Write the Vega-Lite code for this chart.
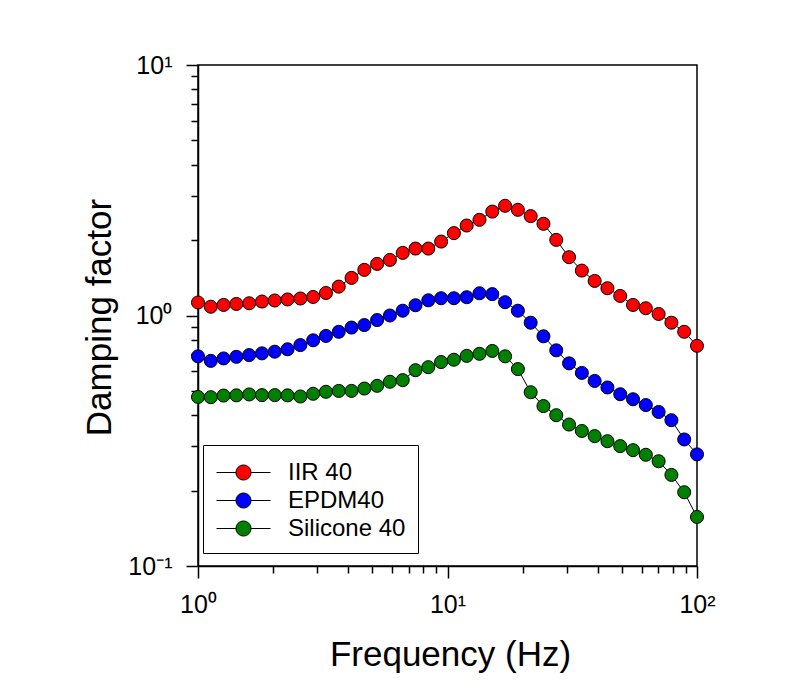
{
  "$schema": "https://vega.github.io/schema/vega-lite/v6.json",
  "width": 499,
  "height": 501,
  "autosize": {"type": "none"},
  "padding": {"left": 198, "top": 65, "right": 92, "bottom": 132},
  "background": "white",
  "config": {
    "view": {"stroke": "black", "strokeWidth": 1.5},
    "font": "Liberation Sans"
  },
  "data": {
    "values": [
      {"f": 1, "s": "IIR 40", "d": 1.127}, {"f": 1.1255, "s": "IIR 40", "d": 1.084}, {"f": 1.2664, "s": "IIR 40", "d": 1.102}, {"f": 1.4251, "s": "IIR 40", "d": 1.112}, {"f": 1.6037, "s": "IIR 40", "d": 1.119},
      {"f": 1.8047, "s": "IIR 40", "d": 1.137}, {"f": 2.0309, "s": "IIR 40", "d": 1.148}, {"f": 2.2855, "s": "IIR 40", "d": 1.159}, {"f": 2.5719, "s": "IIR 40", "d": 1.169}, {"f": 2.8943, "s": "IIR 40", "d": 1.186},
      {"f": 3.257, "s": "IIR 40", "d": 1.23}, {"f": 3.6652, "s": "IIR 40", "d": 1.304}, {"f": 4.1246, "s": "IIR 40", "d": 1.413}, {"f": 4.6416, "s": "IIR 40", "d": 1.521}, {"f": 5.2233, "s": "IIR 40", "d": 1.607},
      {"f": 5.878, "s": "IIR 40", "d": 1.667}, {"f": 6.6147, "s": "IIR 40", "d": 1.778}, {"f": 7.4438, "s": "IIR 40", "d": 1.85}, {"f": 8.3768, "s": "IIR 40", "d": 1.85}, {"f": 9.4267, "s": "IIR 40", "d": 1.973},
      {"f": 10.608, "s": "IIR 40", "d": 2.132}, {"f": 11.938, "s": "IIR 40", "d": 2.287}, {"f": 13.434, "s": "IIR 40", "d": 2.41}, {"f": 15.118, "s": "IIR 40", "d": 2.599}, {"f": 17.013, "s": "IIR 40", "d": 2.742},
      {"f": 19.145, "s": "IIR 40", "d": 2.642}, {"f": 21.544, "s": "IIR 40", "d": 2.493}, {"f": 24.245, "s": "IIR 40", "d": 2.323}, {"f": 27.283, "s": "IIR 40", "d": 2.004}, {"f": 30.703, "s": "IIR 40", "d": 1.709},
      {"f": 34.551, "s": "IIR 40", "d": 1.511}, {"f": 38.882, "s": "IIR 40", "d": 1.374}, {"f": 43.755, "s": "IIR 40", "d": 1.285}, {"f": 49.239, "s": "IIR 40", "d": 1.197}, {"f": 55.41, "s": "IIR 40", "d": 1.102},
      {"f": 62.355, "s": "IIR 40", "d": 1.069}, {"f": 70.17, "s": "IIR 40", "d": 1.014}, {"f": 78.965, "s": "IIR 40", "d": 0.936}, {"f": 88.862, "s": "IIR 40", "d": 0.861}, {"f": 100, "s": "IIR 40", "d": 0.757},

      {"f": 1, "s": "EPDM40", "d": 0.687}, {"f": 1.1255, "s": "EPDM40", "d": 0.659}, {"f": 1.2664, "s": "EPDM40", "d": 0.674}, {"f": 1.4251, "s": "EPDM40", "d": 0.684}, {"f": 1.6037, "s": "EPDM40", "d": 0.695},
      {"f": 1.8047, "s": "EPDM40", "d": 0.706}, {"f": 2.0309, "s": "EPDM40", "d": 0.717}, {"f": 2.2855, "s": "EPDM40", "d": 0.733}, {"f": 2.5719, "s": "EPDM40", "d": 0.762}, {"f": 2.8943, "s": "EPDM40", "d": 0.796},
      {"f": 3.257, "s": "EPDM40", "d": 0.829}, {"f": 3.6652, "s": "EPDM40", "d": 0.861}, {"f": 4.1246, "s": "EPDM40", "d": 0.895}, {"f": 4.6416, "s": "EPDM40", "d": 0.916}, {"f": 5.2233, "s": "EPDM40", "d": 0.959},
      {"f": 5.878, "s": "EPDM40", "d": 1.0}, {"f": 6.6147, "s": "EPDM40", "d": 1.045}, {"f": 7.4438, "s": "EPDM40", "d": 1.099}, {"f": 8.3768, "s": "EPDM40", "d": 1.15}, {"f": 9.4267, "s": "EPDM40", "d": 1.172},
      {"f": 10.608, "s": "EPDM40", "d": 1.172}, {"f": 11.938, "s": "EPDM40", "d": 1.183}, {"f": 13.434, "s": "EPDM40", "d": 1.227}, {"f": 15.118, "s": "EPDM40", "d": 1.217}, {"f": 17.013, "s": "EPDM40", "d": 1.13},
      {"f": 19.145, "s": "EPDM40", "d": 1.045}, {"f": 21.544, "s": "EPDM40", "d": 0.936}, {"f": 24.245, "s": "EPDM40", "d": 0.826}, {"f": 27.283, "s": "EPDM40", "d": 0.726}, {"f": 30.703, "s": "EPDM40", "d": 0.644},
      {"f": 34.551, "s": "EPDM40", "d": 0.59}, {"f": 38.882, "s": "EPDM40", "d": 0.548}, {"f": 43.755, "s": "EPDM40", "d": 0.516}, {"f": 49.239, "s": "EPDM40", "d": 0.485}, {"f": 55.41, "s": "EPDM40", "d": 0.463},
      {"f": 62.355, "s": "EPDM40", "d": 0.439}, {"f": 70.17, "s": "EPDM40", "d": 0.412}, {"f": 78.965, "s": "EPDM40", "d": 0.382}, {"f": 88.862, "s": "EPDM40", "d": 0.32}, {"f": 100, "s": "EPDM40", "d": 0.279},

      {"f": 1, "s": "Silicone 40", "d": 0.473}, {"f": 1.1255, "s": "Silicone 40", "d": 0.472}, {"f": 1.2664, "s": "Silicone 40", "d": 0.479}, {"f": 1.4251, "s": "Silicone 40", "d": 0.48}, {"f": 1.6037, "s": "Silicone 40", "d": 0.484},
      {"f": 1.8047, "s": "Silicone 40", "d": 0.481}, {"f": 2.0309, "s": "Silicone 40", "d": 0.481}, {"f": 2.2855, "s": "Silicone 40", "d": 0.48}, {"f": 2.5719, "s": "Silicone 40", "d": 0.475}, {"f": 2.8943, "s": "Silicone 40", "d": 0.487},
      {"f": 3.257, "s": "Silicone 40", "d": 0.496}, {"f": 3.6652, "s": "Silicone 40", "d": 0.5}, {"f": 4.1246, "s": "Silicone 40", "d": 0.5}, {"f": 4.6416, "s": "Silicone 40", "d": 0.511}, {"f": 5.2233, "s": "Silicone 40", "d": 0.524},
      {"f": 5.878, "s": "Silicone 40", "d": 0.544}, {"f": 6.6147, "s": "Silicone 40", "d": 0.552}, {"f": 7.4438, "s": "Silicone 40", "d": 0.605}, {"f": 8.3768, "s": "Silicone 40", "d": 0.622}, {"f": 9.4267, "s": "Silicone 40", "d": 0.652},
      {"f": 10.608, "s": "Silicone 40", "d": 0.666}, {"f": 11.938, "s": "Silicone 40", "d": 0.69}, {"f": 13.434, "s": "Silicone 40", "d": 0.703}, {"f": 15.118, "s": "Silicone 40", "d": 0.722}, {"f": 17.013, "s": "Silicone 40", "d": 0.687},
      {"f": 19.145, "s": "Silicone 40", "d": 0.611}, {"f": 21.544, "s": "Silicone 40", "d": 0.494}, {"f": 24.245, "s": "Silicone 40", "d": 0.435}, {"f": 27.283, "s": "Silicone 40", "d": 0.4}, {"f": 30.703, "s": "Silicone 40", "d": 0.367},
      {"f": 34.551, "s": "Silicone 40", "d": 0.346}, {"f": 38.882, "s": "Silicone 40", "d": 0.33}, {"f": 43.755, "s": "Silicone 40", "d": 0.315}, {"f": 49.239, "s": "Silicone 40", "d": 0.301}, {"f": 55.41, "s": "Silicone 40", "d": 0.29},
      {"f": 62.355, "s": "Silicone 40", "d": 0.278}, {"f": 70.17, "s": "Silicone 40", "d": 0.262}, {"f": 78.965, "s": "Silicone 40", "d": 0.231}, {"f": 88.862, "s": "Silicone 40", "d": 0.197}, {"f": 100, "s": "Silicone 40", "d": 0.157}
    ]
  },
  "encoding": {
    "x": {
      "field": "f",
      "type": "quantitative",
      "scale": {"type": "log", "domain": [1, 100], "nice": false},
      "axis": {
        "title": "Frequency (Hz)",
        "values": [1, 2, 3, 4, 5, 6, 7, 8, 9, 10, 20, 30, 40, 50, 60, 70, 80, 90, 100],
        "labelExpr": "datum.value == 1 ? '10⁰' : datum.value == 10 ? '10¹' : datum.value == 100 ? '10²' : ''",
        "labelOverlap": false,
        "labelFlush": false,
        "labelBound": false,
        "labelFont": "Liberation Sans",
        "labelFontSize": 25,
        "labelColor": "black",
        "labelPadding": 14,
        "tickSize": {"condition": {"test": "datum.value == 1 || datum.value == 10 || datum.value == 100", "value": 12}, "value": 7},
        "tickColor": "black",
        "tickWidth": 1.5,
        "domainColor": "black",
        "domainWidth": 1.5,
        "grid": false,
        "titleFont": "Liberation Sans",
        "titleFontSize": 35,
        "titleFontWeight": "normal",
        "titleColor": "black",
        "titleX": 252,
        "titleY": 99,
        "titleBaseline": "alphabetic",
        "titleAlign": "center"
      }
    },
    "y": {
      "field": "d",
      "type": "quantitative",
      "scale": {"type": "log", "domain": [0.1, 10], "nice": false},
      "axis": {
        "title": "Damping factor",
        "values": [0.1, 0.2, 0.3, 0.4, 0.5, 0.6, 0.7, 0.8, 0.9, 1, 2, 3, 4, 5, 6, 7, 8, 9, 10],
        "labelExpr": "datum.value == 0.1 ? '10⁻¹' : datum.value == 1 ? '10⁰' : datum.value == 10 ? '10¹' : ''",
        "labelOverlap": false,
        "labelFlush": false,
        "labelBound": false,
        "labelFont": "Liberation Sans",
        "labelFontSize": 25,
        "labelColor": "black",
        "labelPadding": 14,
        "tickSize": {"condition": {"test": "datum.value == 0.1 || datum.value == 1 || datum.value == 10", "value": 12}, "value": 7},
        "tickColor": "black",
        "tickWidth": 1.5,
        "domainColor": "black",
        "domainWidth": 1.5,
        "grid": false,
        "titleFont": "Liberation Sans",
        "titleFontSize": 35,
        "titleFontWeight": "normal",
        "titleColor": "black",
        "titleAngle": 270,
        "titleX": -88,
        "titleY": 252,
        "titleBaseline": "alphabetic",
        "titleAlign": "center"
      }
    }
  },
  "layer": [
    {
      "mark": {"type": "line", "color": "black", "strokeWidth": 1},
      "encoding": {"detail": {"field": "s", "type": "nominal"}}
    },
    {
      "mark": {"type": "point", "shape": "circle", "filled": true, "size": 170, "stroke": "black", "strokeWidth": 1, "opacity": 1},
      "encoding": {
        "color": {
          "field": "s",
          "type": "nominal",
          "scale": {"domain": ["IIR 40", "EPDM40", "Silicone 40"], "range": ["#FF0000", "#0000FF", "#008000"]},
          "legend": {
            "orient": "none",
            "legendX": 5,
            "legendY": 380,
            "title": null,
            "strokeColor": "black",
            "fillColor": "white",
            "padding": 12,
            "rowPadding": 0,
            "symbolType": "M -1.8 0 L -0.5 0 M 0.5 0 L 1.8 0 M 0.5 0 A 0.5 0.5 0 1 1 -0.5 0 A 0.5 0.5 0 1 1 0.5 0 Z",
            "symbolSize": 900,
            "symbolOffset": 13,
            "symbolStrokeColor": "black",
            "symbolStrokeWidth": 1,
            "symbolOpacity": 1,
            "labelOffset": 29,
            "labelFont": "Liberation Sans",
            "labelFontSize": 24,
            "labelColor": "black",
            "labelLimit": 300
          }
        }
      }
    }
  ]
}
